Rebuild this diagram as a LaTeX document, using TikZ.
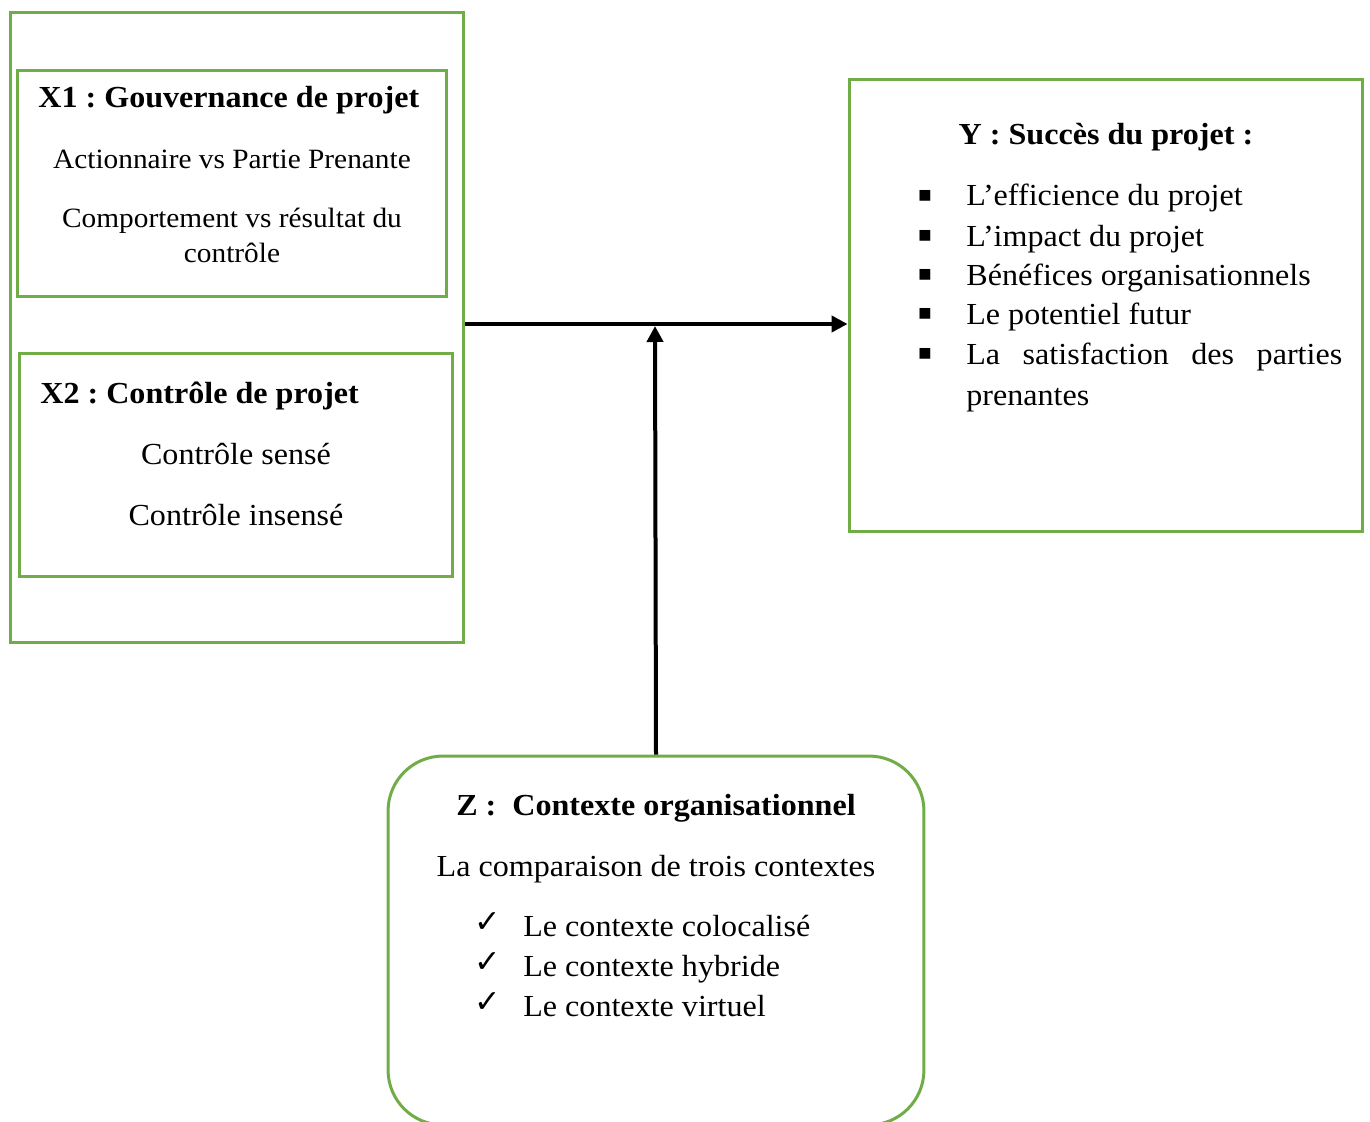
\documentclass[tikz,border=0pt]{standalone}
\usepackage{fontspec}
\setmainfont{Liberation Serif}[FakeStretch=1.05]
\newfontfamily\symbolfont{DejaVu Sans}
\usetikzlibrary{arrows.meta}
\definecolor{leafgreen}{HTML}{70AD47}
\frenchspacing
\newcommand\mainsize{\fontsize{17.4}{22.8}\selectfont}
\newcommand\smallbody{\fontsize{15.9}{19.9}\selectfont}
\tikzset{
  framebox/.style={draw=leafgreen,line width=0.06cm,inner sep=0pt},
  heading/.style={font=\mainsize\bfseries,inner sep=0pt},
  body/.style={font=\mainsize,inner sep=0pt},
  squaremark/.style={font=\symbolfont\fontsize{8}{8}\selectfont,inner sep=0pt},
  tickmark/.style={font=\symbolfont\fontsize{18}{18}\selectfont,inner sep=0pt},
  arrow/.style={-{Triangle[length=0.32cm,width=0.32cm]},line width=0.08cm,draw=black}
}
\begin{document}
\begin{tikzpicture}[x=0.02cm,y=-0.02cm]
  \path[use as bounding box,clip] (0,0) rectangle (1370,1122);
  % boxes
  \node[framebox,minimum width=9.08cm,minimum height=12.62cm] (xgroup) at (237,327.5) {};
  \node[framebox,minimum width=8.6cm,minimum height=4.54cm] (xone) at (232,183.5) {};
  \node[framebox,minimum width=8.68cm,minimum height=4.48cm] (xtwo) at (236,465) {};
  \node[framebox,minimum width=10.28cm,minimum height=9.06cm] (ybox) at (1106,305.5) {};
  \node[framebox,rounded corners=1.1cm,minimum width=10.72cm,minimum height=7.38cm] (zbox) at (656,940.5) {};
  % X1
  \node[heading,anchor=base west] (xonetitle) at (38,108) {X1 : Gouvernance de projet};
  \node[body,font=\smallbody,anchor=base] (xonea) at (232,169) {Actionnaire vs Partie Prenante};
  \node[body,font=\smallbody,anchor=base] (xoneb) at (232,227) {Comportement vs résultat du};
  \node[body,font=\smallbody,anchor=base] (xonec) at (232,262) {contrôle};
  % X2
  \node[heading,anchor=base west] (xtwotitle) at (40,403) {X2 : Contrôle de projet};
  \node[body,anchor=base] (xtwoa) at (236,464) {Contrôle sensé};
  \node[body,anchor=base] (xtwob) at (236,525) {Contrôle insensé};
  % Y
  \node[heading,anchor=base] (ytitle) at (1106,145) {Y : Succès du projet :};
  \node[squaremark] (ybul1) at (925,196) {■};
  \node[squaremark] (ybul2) at (925,236) {■};
  \node[squaremark] (ybul3) at (925,275) {■};
  \node[squaremark] (ybul4) at (925,314) {■};
  \node[squaremark] (ybul5) at (925,354) {■};
  \node[body,anchor=base west] (yitem1) at (966,206) {L’efficience du projet};
  \node[body,anchor=base west] (yitem2) at (966,246) {L’impact du projet};
  \node[body,anchor=base west] (yitem3) at (966,285) {Bénéfices organisationnels};
  \node[body,anchor=base west] (yitem4) at (966,324) {Le potentiel futur};
  \node[body,anchor=base west] (yitem5) at (966,364) {\makebox[7.52cm][s]{La satisfaction des parties}};
  \node[body,anchor=base west] (yitem5b) at (966,405) {prenantes};
  % Z
  \node[heading,anchor=base] (ztitle) at (656,815) {Z :~ Contexte organisationnel};
  \node[body,anchor=base] (zintro) at (656,876) {La comparaison de trois contextes};
  \node[tickmark] (ztick1) at (488,923) {✓};
  \node[tickmark] (ztick2) at (488,963) {✓};
  \node[tickmark] (ztick3) at (488,1003) {✓};
  \node[body,anchor=base west] (zitem1) at (523,936) {Le contexte colocalisé};
  \node[body,anchor=base west] (zitem2) at (523,976) {Le contexte hybride};
  \node[body,anchor=base west] (zitem3) at (523,1016) {Le contexte virtuel};
  % connectors
  \coordinate (midline) at (655,324);
  \draw[arrow] (xgroup.east |- midline) -- (ybox.west |- midline);
  \draw[arrow] (zbox.north) -- ([yshift=-0.04cm]midline);
\end{tikzpicture}
\end{document}
